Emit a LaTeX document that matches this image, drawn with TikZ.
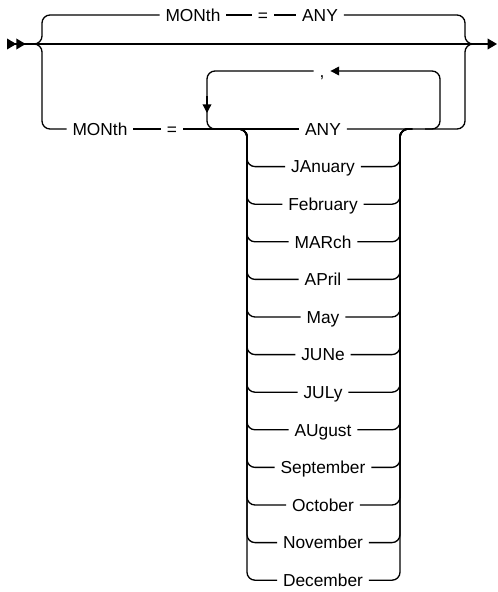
\documentclass[tikz,border=0pt]{standalone}
\usepackage{fontspec}
\setmainfont{Liberation Sans}
\usetikzlibrary{arrows.meta, positioning}

\begin{document}
\begin{tikzpicture}[
  x=0.75pt, y=-0.75pt,
  kw/.style={inner xsep=4.5pt, inner ysep=0pt, outer sep=0pt,
    text height=9.3pt, text depth=0pt, font=\fontsize{13}{15}\selectfont},
  rail/.style={line width=1pt, rounded corners=6pt},
  tip/.style={-{Triangle[length=6.5pt, width=6.5pt]}},
  node distance=18.9pt,
]
  \useasboundingbox (0,0) rectangle (498,592);

  % main line, braces and junctions
  \coordinate (start) at (7,44);
  \coordinate (stop) at (497,44);
  \coordinate (jl) at (30,44);
  \coordinate (bl) at (42,44);
  \coordinate (br) at (465,44);
  \coordinate (jr) at (475,44);

  \node[kw] (mon1) at (193,15) {MONth};
  \node[kw] (eq1) at (263,15) {=};
  \node[kw] (any1) at (320,15) {ANY};
  \node[kw] (mon2) at (100,129) {MONth};
  \node[kw] (eq2) at (172,129) {=};
  \node[kw] (any2) at (323,129) {ANY};
  \node[kw, below=of any2] (jan) {JAnuary};
  \node[kw, below=of jan] (feb) {February};
  \node[kw, below=of feb] (mar) {MARch};
  \node[kw, below=of mar] (apr) {APril};
  \node[kw, below=of apr] (may) {May};
  \node[kw, below=of may] (jun) {JUNe};
  \node[kw, below=of jun] (jul) {JULy};
  \node[kw, below=of jul] (aug) {AUgust};
  \node[kw, below=of aug] (sep) {September};
  \node[kw, below=of sep] (oct) {October};
  \node[kw, below=of oct] (nov) {November};
  \node[kw, below=of nov] (dec) {December};
  \node[kw] (comma) at (322,71) {,};

  \draw[line width=1pt,
    {Triangle[reversed, length=7pt, width=8pt]Triangle[reversed, length=7pt, width=8pt]}-{Triangle[length=7pt, width=8pt]}]
    (start) -- (stop);

  \draw[rail] (jl) -| (bl |- mon1.west) -- (mon1.west);
  \draw[rail] (jl) -| (bl |- mon2.west) -- (mon2.west);
  \draw[rail] (mon1) -- (eq1);
  \draw[rail] (eq1) -- (any1);
  \draw[rail] (any1.east) -| (br) -- (jr);
  \draw[rail] (mon2) -- (eq2);
  \draw[rail] (eq2) -- (any2);
  \draw[rail] (any2.east) -| (br) -- (jr);

  % repeat loop
  \coordinate (lpin) at (425,129);
  \coordinate (lptr) at (440,71);
  \coordinate (lpbl) at (207,129);
  \coordinate (lpout) at (222,129);
  \coordinate (lpdn1) at (207,96);
  \coordinate (lpdn2) at (207,113);
  \draw[rail, tip] (lpin) -| (lptr) -- (comma);
  \draw[rail] (comma) -| (lpbl) -- (lpout);
  \draw[rail, tip] (lpdn1) -- (lpdn2);

  % month stack
  \coordinate (sl) at (235,129);
  \coordinate (stl) at (247,129);
  \coordinate (str) at (400,129);
  \coordinate (sr) at (412,129);
  \draw[rail] (sl) -| (stl |- jan.west) -- (jan.west) (jan.east) -| (str) -- (sr);
  \draw[rail] (sl) -| (stl |- feb.west) -- (feb.west) (feb.east) -| (str) -- (sr);
  \draw[rail] (sl) -| (stl |- mar.west) -- (mar.west) (mar.east) -| (str) -- (sr);
  \draw[rail] (sl) -| (stl |- apr.west) -- (apr.west) (apr.east) -| (str) -- (sr);
  \draw[rail] (sl) -| (stl |- may.west) -- (may.west) (may.east) -| (str) -- (sr);
  \draw[rail] (sl) -| (stl |- jun.west) -- (jun.west) (jun.east) -| (str) -- (sr);
  \draw[rail] (sl) -| (stl |- jul.west) -- (jul.west) (jul.east) -| (str) -- (sr);
  \draw[rail] (sl) -| (stl |- aug.west) -- (aug.west) (aug.east) -| (str) -- (sr);
  \draw[rail] (sl) -| (stl |- sep.west) -- (sep.west) (sep.east) -| (str) -- (sr);
  \draw[rail] (sl) -| (stl |- oct.west) -- (oct.west) (oct.east) -| (str) -- (sr);
  \draw[rail] (sl) -| (stl |- nov.west) -- (nov.west) (nov.east) -| (str) -- (sr);
  \draw[rail] (sl) -| (stl |- dec.west) -- (dec.west) (dec.east) -| (str) -- (sr);
\end{tikzpicture}
\end{document}
